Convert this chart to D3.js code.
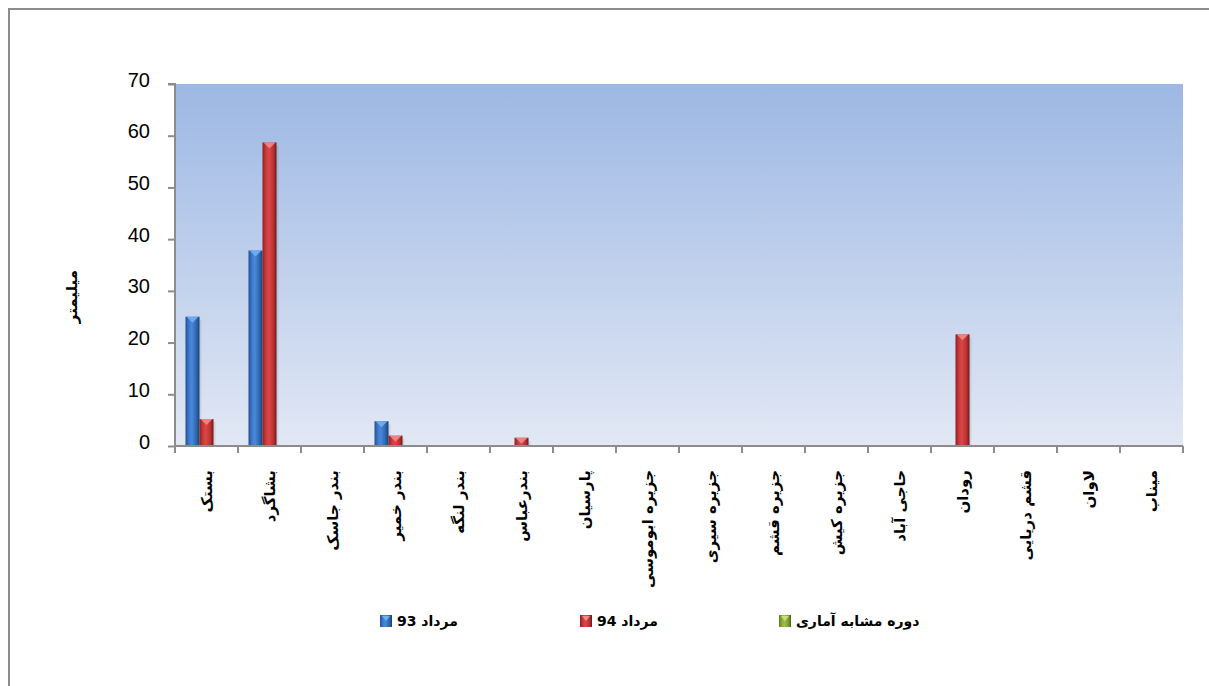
<!DOCTYPE html>
<html>
<head>
<meta charset="utf-8">
<script src="https://cdn.jsdelivr.net/npm/d3@7"></script>
<style>
  body { margin: 0; background: #fff; }
  svg { display: block; }
  .tick text { font-family: "Liberation Sans Narrow", "Liberation Sans", sans-serif; }
</style>
</head>
<body>
<svg id="chart" width="1209" height="686"></svg>
<script>
// categories (stations)
var stations = ["بستک", "بشاگرد", "بندر جاسک", "بندر خمیر", "بندر لنگه", "بندرعباس", "پارسیان",
    "جزیره ابوموسی", "جزیره سیری", "جزیره قشم", "جزیره کیش", "حاجی آباد", "رودان",
    "قشم دریایی", "لاوان", "میناب"];
// rainfall values (mm)
var mordad93 = [25, 37.8, 0, 4.8, 0, 0, 0, 0, 0, 0, 0, 0, 0, 0, 0, 0];
var mordad94 = [5.2, 58.7, 0, 2, 0, 1.6, 0, 0, 0, 0, 0, 0, 21.6, 0, 0, 0];
var similarPeriod = [0, 0, 0, 0, 0, 0, 0, 0, 0, 0, 0, 0, 0, 0, 0, 0];
var seriesNames = ["مرداد 93", "مرداد 94", "دوره مشابه آماری"];
var yTicks = [0, 10, 20, 30, 40, 50, 60, 70];

var svg = d3.select("#chart");
var margin = {top: 84, right: 26, bottom: 240, left: 175};
var width = 1209 - margin.left - margin.right;
var height = 686 - margin.top - margin.bottom;

var defs = svg.append("defs");

// plot background gradient
var bg = defs.append("linearGradient").attr("id", "bgGrad")
    .attr("x1", 0).attr("y1", 0).attr("x2", 0).attr("y2", 1);
bg.append("stop").attr("offset", "0%").attr("stop-color", "#9db8e4");
bg.append("stop").attr("offset", "100%").attr("stop-color", "#e2e8f4");

// bar gradients (cylinder look)
var colors = [
    {id: "blue", stops: ["#244f8e", "#3b7bcf", "#4a88d8", "#2c63ad", "#1b3f70"], cap: "#6fb0f0"},
    {id: "red", stops: ["#8e2020", "#cc3a3a", "#d84848", "#b83030", "#6c1616"], cap: "#f08a8a"},
    {id: "green", stops: ["#5e7a20", "#8db03a", "#9cc048", "#7a9a2e", "#4a6018"], cap: "#c8e07a"}
];
colors.forEach(function (c) {
    var g = defs.append("linearGradient").attr("id", c.id + "Grad")
        .attr("x1", 0).attr("y1", 0).attr("x2", 1).attr("y2", 0);
    var offs = [0, 0.25, 0.45, 0.8, 1];
    c.stops.forEach(function (s, i) {
        g.append("stop").attr("offset", offs[i]).attr("stop-color", s);
    });
});

// outer frame
svg.append("rect")
    .attr("x", 9).attr("y", 9)
    .attr("width", 1230).attr("height", 700)
    .attr("fill", "none")
    .attr("stroke", "#8c8c8c")
    .attr("stroke-width", 2);

var panel = svg.append("g")
    .attr("transform", "translate(" + margin.left + "," + margin.top + ")");

panel.append("rect")
    .attr("width", width).attr("height", height)
    .attr("fill", "url(#bgGrad)");

var xScale = d3.scaleBand()
    .domain(stations)
    .range([0, width])
    .paddingInner(0).paddingOuter(0);

var xInner = d3.scaleBand()
    .domain([0, 1, 2])
    .range([0, xScale.bandwidth()])
    .paddingOuter(0.75);

var yScale = d3.scaleLinear()
    .domain([0, 70])
    .range([height, 0]);

// bars
var allSeries = [mordad93, mordad94, similarPeriod];
allSeries.forEach(function (vals, si) {
    var c = colors[si];
    var groups = panel.append("g").selectAll("g")
        .data(vals.map(function (v, i) { return {v: v, cat: stations[i]}; }).filter(function (d) { return d.v > 0; }))
        .enter().append("g")
        .attr("transform", function (d) {
            return "translate(" + (xScale(d.cat) + xInner(si)) + ",0)";
        });
    var bw = xInner.bandwidth();
    // soft shadow
    groups.append("rect")
        .attr("x", 2).attr("y", function (d) { return yScale(d.v) + 3; })
        .attr("width", bw).attr("height", function (d) { return height - yScale(d.v) - 3; })
        .attr("fill", "#000").attr("opacity", 0.08);
    groups.append("rect")
        .attr("x", 0).attr("y", function (d) { return yScale(d.v); })
        .attr("width", bw).attr("height", function (d) { return height - yScale(d.v); })
        .attr("fill", "url(#" + c.id + "Grad)");
    // top cap
    groups.append("path")
        .attr("d", function (d) {
            var y0 = yScale(d.v);
            return "M1," + y0 + "L" + (bw - 1) + "," + y0 + "L" + (bw / 2) + "," + (y0 + 6) + "Z";
        })
        .attr("fill", c.cap).attr("opacity", 0.9);
});

// axes
var yAxis = d3.axisLeft(yScale).tickValues(yTicks).tickSize(7).tickPadding(18);
var gy = panel.append("g").call(yAxis);
gy.select(".domain").attr("stroke", "#8c8c8c").attr("stroke-width", 2).attr("d", "M-7,0H0V" + (height + 6));
gy.selectAll(".tick line").attr("stroke", "#8c8c8c").attr("stroke-width", 2);
gy.selectAll(".tick text").style("font-size", "20px").attr("fill", "#000").attr("dy", "0.1em");

var boundaries = stations.map(function (s) { return xScale(s); }).concat([width]);
var gx = panel.append("g").attr("transform", "translate(0," + height + ")");
gx.append("line").attr("x1", 0).attr("x2", width).attr("y1", 0).attr("y2", 0)
    .attr("stroke", "#8c8c8c").attr("stroke-width", 2);
gx.selectAll(".xtick").data(boundaries).enter().append("line")
    .attr("x1", function (d) { return d; }).attr("x2", function (d) { return d; })
    .attr("y1", 0).attr("y2", 7)
    .attr("stroke", "#8c8c8c").attr("stroke-width", 2);

gx.selectAll(".xlabel").data(stations).enter().append("text")
    .attr("transform", function (d) {
        return "translate(" + (xScale(d) + xScale.bandwidth() / 2) + ",24) rotate(-90)";
    })
    .attr("text-anchor", "end")
    .attr("dy", "0.35em")
    .style("font-family", "DejaVu Sans, sans-serif")
    .style("font-size", "15px")
    .style("font-weight", "bold")
    .text(function (d) { return d; });

// y axis title
svg.append("text")
    .attr("transform", "translate(72,270) rotate(-90)")
    .attr("text-anchor", "end")
    .attr("dy", "0.35em")
    .style("font-family", "DejaVu Sans, sans-serif")
    .style("font-size", "15px")
    .style("font-weight", "bold")
    .text("میلیمتر");

// legend
var legendX = [380, 580, 779];
seriesNames.forEach(function (name, i) {
    var lg = svg.append("g").attr("transform", "translate(" + legendX[i] + ",615)");
    lg.append("rect").attr("width", 12).attr("height", 12)
        .attr("fill", "url(#" + colors[i].id + "Grad)");
    lg.append("path").attr("d", "M2,1L10,1L6,6Z").attr("fill", colors[i].cap);
    lg.append("text")
        .attr("x", 17).attr("y", 6)
        .attr("dy", "0.35em")
        .attr("direction", "rtl")
        .attr("text-anchor", "end")
        .style("font-family", "DejaVu Sans, sans-serif")
        .style("font-size", "14px")
        .style("font-weight", "bold")
        .text(name);
});
</script>
</body>
</html>
